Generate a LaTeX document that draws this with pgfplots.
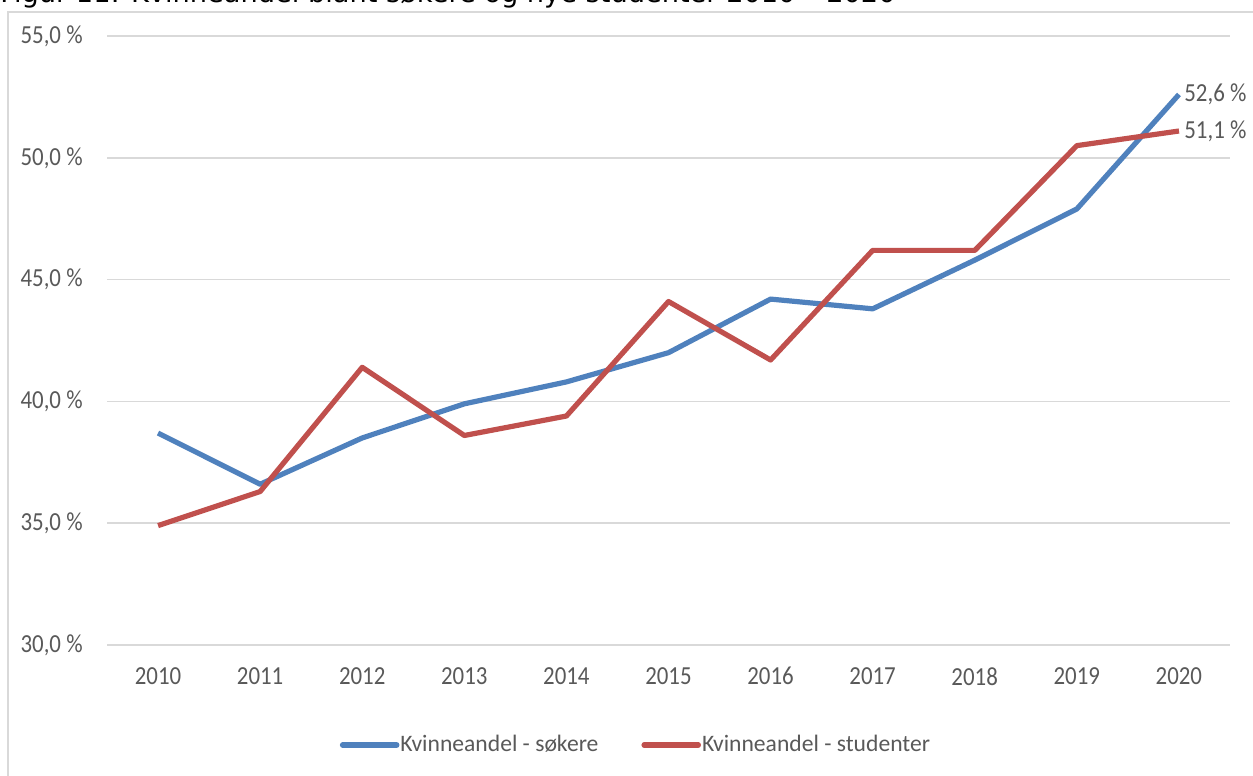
\documentclass[border=0pt]{standalone}
\usepackage{fontspec}
\setmainfont{Carlito}
\newfontfamily\tickfont[FakeStretch=0.88]{Carlito}
\newfontfamily\legfont{Carlito}
\newfontfamily\titlefont{DejaVu Sans}
\usepackage{pgfplots}
\pgfplotsset{compat=1.18}
\definecolor{cblue}{HTML}{4F81BD}
\definecolor{cred}{HTML}{C0504D}
\definecolor{cgrid}{HTML}{D9D9D9}
\definecolor{ctext}{HTML}{595959}
\begin{document}
\begin{tikzpicture}[x=0.5pt,y=0.5pt]
\useasboundingbox (0,0) rectangle (1253,776);
\clip (0,0) rectangle (1253,776);
% outer frame
\draw[cgrid, line width=1pt] (8,-20) -- (8,764) -- (1280,764);
% cut-off title
\node[anchor=base west, inner sep=0, font=\fontsize{13.6}{15}\titlefont, text=black] at (0,773.5) {Figur 11: Kvinneandel blant søkere og nye studenter 2010 – 2020};
\begin{axis}[
  at={(53.5pt,65.5pt)}, anchor=south west,
  scale only axis, width=561.5pt, height=304.5pt,
  xmin=2009.5, xmax=2020.5, ymin=30, ymax=55,
  xtick={2010,...,2020},
  xticklabels={2010,2011,2012,2013,2014,2015,2016,2017,2018,2019,2020},
  ytick={30,35,40,45,50,55},
  yticklabels={{30,0 \%},{35,0 \%},{40,0 \%},{45,0 \%},{50,0 \%},{55,0 \%}},
  ymajorgrids, major grid style={cgrid, line width=0.75pt},
  axis line style={draw=none},
  tick style={draw=none}, major tick length=0pt,
  xticklabel style={anchor=north, inner sep=0pt, yshift=-11pt, font=\fontsize{13}{15}\tickfont, text=ctext},
  yticklabel style={anchor=east, inner sep=0pt, xshift=-12pt, font=\fontsize{13}{15}\tickfont, text=ctext},
  legend style={at={(0.4706,-0.1642)}, anchor=center, draw=none, fill=none,
     legend columns=2, font=\fontsize{11.8}{14}\legfont, text=ctext,
     /tikz/every even column/.append style={column sep=21pt},
     nodes={inner sep=0.5pt}},
  legend image code/.code={\draw[#1, line width=2.8pt, line cap=round] (0pt,0pt) -- (27pt,0pt);},
  clip=false,
]
\addplot[cblue, line width=2.6pt, line join=round] coordinates {
 (2010,38.7) (2011,36.6) (2012,38.5) (2013,39.9) (2014,40.8) (2015,42.0)
 (2016,44.2) (2017,43.8) (2018,45.8) (2019,47.9) (2020,52.6)};
\addlegendentry{Kvinneandel - søkere}
\addplot[cred, line width=2.6pt, line join=round] coordinates {
 (2010,34.9) (2011,36.3) (2012,41.4) (2013,38.6) (2014,39.4) (2015,44.1)
 (2016,41.7) (2017,46.2) (2018,46.2) (2019,50.5) (2020,51.1)};
\addlegendentry{Kvinneandel - studenter}
\node[anchor=west, inner sep=0pt, xshift=2.5pt, font=\fontsize{13}{15}\tickfont, text=ctext] at (axis cs:2020,52.6) {52,6 \%};
\node[anchor=west, inner sep=0pt, xshift=2.5pt, font=\fontsize{13}{15}\tickfont, text=ctext] at (axis cs:2020,51.1) {51,1 \%};
\end{axis}
\end{tikzpicture}
\end{document}
